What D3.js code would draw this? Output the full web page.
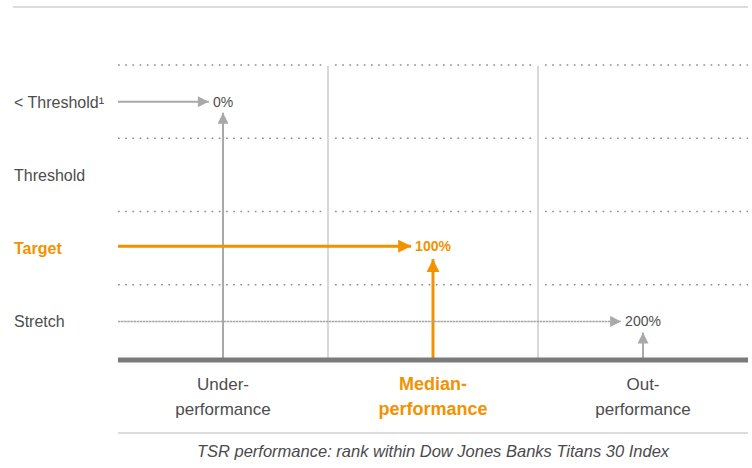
<!DOCTYPE html>
<html>
<head>
<meta charset="utf-8">
<script src="https://cdn.jsdelivr.net/npm/d3@7"></script>
<style>
  body { margin: 0; background: #fff; }
  text { font-family: "Liberation Sans Narrow", "Liberation Sans", sans-serif; }
</style>
</head>
<body>
<div id="chart"></div>
<script>
// rows = vesting levels, columns = TSR rank bands
var rows = ["< Threshold¹", "Threshold", "Target", "Stretch"];
var cols = ["Under", "Median", "Out"];
var colLines = [["Under-", "performance"], ["Median-", "performance"], ["Out-", "performance"]];
var payoutRow = ["< Threshold¹", "Target", "Stretch"];
var payoutCol = ["Under", "Median", "Out"];
var payoutLabel = ["0%", "100%", "200%"];
var highlightRow = "Target";
var highlightCol = "Median";
var caption = "TSR performance: rank within Dow Jones Banks Titans 30 Index";

var W = 752, H = 468;
var orange = "#f39200", grey = "#a9a9a9", textCol = "#4d4d4d";

var svg = d3.select("#chart").append("svg").attr("width", W).attr("height", H);

var x = d3.scaleBand().domain(cols).range([118, 748]);
var y = d3.scaleBand().domain(rows).range([65, 358]);
var bottom = 360;

var defs = svg.append("defs");
function marker(id, color, w, h) {
  defs.append("marker")
    .attr("id", id)
    .attr("viewBox", "0 0 10 10")
    .attr("refX", 10).attr("refY", 5)
    .attr("markerUnits", "userSpaceOnUse")
    .attr("markerWidth", w).attr("markerHeight", h)
    .attr("orient", "auto")
    .append("path").attr("d", "M0,0L10,5L0,10Z").attr("fill", color);
}
marker("hg", "#a9a9a9", 12, 11);
marker("ho", orange, 13, 14);

// top rule
svg.append("line").attr("x1", 13).attr("x2", 748).attr("y1", 7).attr("y2", 7)
  .attr("stroke", "#dcdcdc").attr("stroke-width", 2);

// dotted row separators, broken around the column lines
var bounds = rows.map(function (r) { return y(r); });
bounds.forEach(function (yy) {
  cols.forEach(function (c, i) {
    var x0 = x(c) + (i > 0 ? 7 : 0);
    var x1 = x(c) + x.bandwidth() - (i < cols.length - 1 ? 6 : 0);
    svg.append("line").attr("x1", x0).attr("x2", x1).attr("y1", yy).attr("y2", yy)
      .attr("stroke", "#8f8f8f").attr("stroke-width", 1.7)
      .attr("stroke-dasharray", "1.7,5.5");
  });
});

// column separators
cols.slice(1).forEach(function (c) {
  svg.append("line").attr("x1", x(c)).attr("x2", x(c)).attr("y1", y(rows[0]) + 1).attr("y2", bottom)
    .attr("stroke", "#cfcfcf").attr("stroke-width", 1.6);
});

// row labels
rows.forEach(function (r) {
  svg.append("text").attr("x", 14).attr("y", y(r) + y.bandwidth() / 2 + 6)
    .attr("font-size", 16)
    .attr("font-weight", r === highlightRow ? "bold" : "normal")
    .attr("fill", r === highlightRow ? orange : textCol)
    .text(r);
});

// payout arrows
payoutLabel.forEach(function (lab, i) {
  var hi = payoutRow[i] === highlightRow;
  var cy = y(payoutRow[i]) + y.bandwidth() / 2 - (hi ? 2 : 0);
  var cx = x(payoutCol[i]) + x.bandwidth() / 2;
  var col = hi ? orange : grey;
  var t = svg.append("text").attr("x", cx).attr("y", cy + 5)
    .attr("text-anchor", "middle").attr("font-size", 14)
    .attr("font-weight", hi ? "bold" : "normal")
    .attr("fill", hi ? orange : textCol).text(lab);
  var tw = t.node().getComputedTextLength();
  var h = svg.append("line").attr("x1", 118).attr("x2", cx - tw / 2 - 4)
    .attr("y1", cy).attr("y2", cy)
    .attr("stroke", col)
    .attr("stroke-width", hi ? 3 : (i === 2 ? 1.5 : 2))
    .attr("marker-end", hi ? "url(#ho)" : "url(#hg)");
  // stretch line is a fine, almost solid dotted rule
  if (i === 2) h.attr("stroke-dasharray", "2.5,0.6").attr("stroke", "#a4a4a4");
  svg.append("line").attr("x1", cx).attr("x2", cx)
    .attr("y1", bottom - 2).attr("y2", cy + (hi ? 13 : 11))
    .attr("stroke", col).attr("stroke-width", hi ? 3 : 2)
    .attr("marker-end", hi ? "url(#ho)" : "url(#hg)");
});

// baseline
svg.append("line").attr("x1", 118).attr("x2", 748).attr("y1", bottom).attr("y2", bottom)
  .attr("stroke", "#7a7a7a").attr("stroke-width", 5);

// column labels
cols.forEach(function (c, i) {
  var hi = c === highlightCol;
  var t = svg.append("text").attr("x", x(c) + x.bandwidth() / 2).attr("y", 390)
    .attr("text-anchor", "middle").attr("font-size", hi ? 18 : 17)
    .attr("font-weight", hi ? "bold" : "normal")
    .attr("fill", hi ? orange : textCol);
  colLines[i].forEach(function (s, k) {
    t.append("tspan").attr("x", x(c) + x.bandwidth() / 2).attr("dy", k ? 25 : 0).text(s);
  });
});

// bottom rule + caption
svg.append("line").attr("x1", 118).attr("x2", 748).attr("y1", 433).attr("y2", 433)
  .attr("stroke", "#d0d0d0").attr("stroke-width", 1.5);
svg.append("text").attr("x", 433).attr("y", 457).attr("text-anchor", "middle")
  .attr("font-size", 16.5).attr("font-style", "italic").attr("fill", "#4a4a4a")
  .text(caption);
</script>
</body>
</html>
